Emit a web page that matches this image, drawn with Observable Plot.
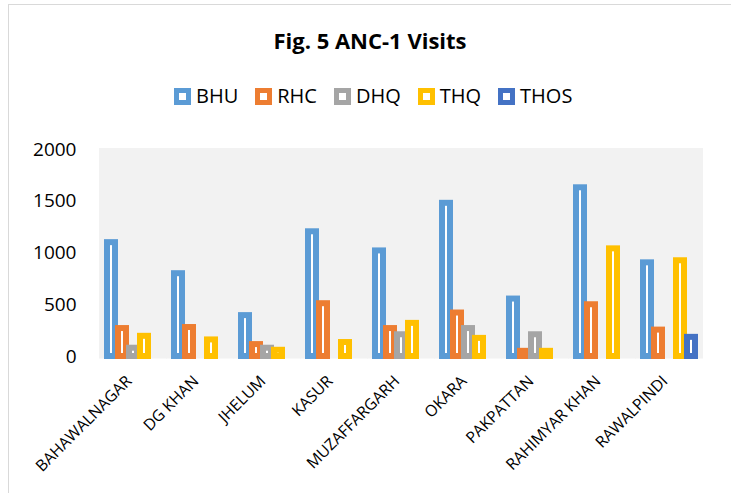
<!DOCTYPE html>
<html>
<head>
<meta charset="utf-8">
<script src="https://cdn.jsdelivr.net/npm/d3@7"></script>
<script src="https://cdn.jsdelivr.net/npm/@observablehq/plot@0.6"></script>
<style>
  html, body { margin: 0; padding: 0; background: #fff; }
  #wrap { position: relative; width: 731px; height: 493px; overflow: hidden; background: #fff; font-family: "Open Sans", sans-serif; }
  #border { position: absolute; left: 8px; top: 4px; width: 800px; height: 600px; border-left: 1.5px solid #d9d9d9; border-top: 1.5px solid #d9d9d9; }
  #title { position: absolute; left: 0; top: 29px; width: 740px; text-align: center; font-weight: 700; font-size: 22px; line-height: 22px; color: #000; }
  #legend { position: absolute; left: 174px; top: 86px; display: flex; align-items: center; font-size: 20px; line-height: 20px; color: #000; }
  .item { display: flex; align-items: center; margin-right: 17px; }
  .sw { box-sizing: border-box; width: 17px; height: 17px; border: 5.5px solid; background: #fff; margin-right: 5px; }
  #chart { position: absolute; left: 0; top: 120px; }
</style>
</head>
<body>
<div id="wrap">
  <div id="border"></div>
  <div id="title">Fig. 5 ANC-1 Visits</div>
  <div id="legend"></div>
  <div id="chart"></div>
</div>
<script>
const districts = ["BAHAWALNAGAR", "DG KHAN", "JHELUM", "KASUR", "MUZAFFARGARH", "OKARA", "PAKPATTAN", "RAHIMYAR KHAN", "RAWALPINDI"];
const seriesNames = ["BHU", "RHC", "DHQ", "THQ", "THOS"];
const bhu  = [1100, 800, 395, 1205, 1020, 1480, 555, 1630, 905];
const rhc  = [270, 280, 115, 510, 270, 420, 50, 500, 255];
const dhq  = [80, null, 80, null, 210, 270, 210, null, null];
const thq  = [195, 160, 60, 135, 320, 175, 50, 1040, 925];
const thos = [null, null, null, null, null, null, null, null, 185];
const colors = ["#5b9bd5", "#ed7d31", "#a5a5a5", "#ffc000", "#4472c4"];
const yTicks = [0, 500, 1000, 1500, 2000];

const seriesValues = [bhu, rhc, dhq, thq, thos];
const data = [];
districts.forEach((d, i) => {
  seriesValues.forEach((arr, j) => {
    if (arr[i] != null) data.push({district: d, series: seriesNames[j], value: arr[i]});
  });
});

// legend
const legend = document.getElementById("legend");
seriesNames.forEach((s, j) => {
  const it = document.createElement("div");
  it.className = "item";
  const sw = document.createElement("span");
  sw.className = "sw";
  sw.style.borderColor = colors[j];
  const tx = document.createElement("span");
  tx.textContent = s;
  it.appendChild(sw);
  it.appendChild(tx);
  legend.appendChild(it);
});

const chart = Plot.plot({
  width: 731,
  height: 373,
  marginTop: 29,
  marginBottom: 137,
  marginLeft: 97,
  marginRight: 27,
  style: {fontFamily: "Open Sans", color: "#000", background: "transparent", overflow: "visible"},
  fx: {domain: districts, padding: 0, axis: null, label: null},
  x: {domain: seriesNames, paddingInner: 0.3, paddingOuter: 0.6, axis: null},
  y: {domain: [0, 2000], axis: null},
  color: {domain: seriesNames, range: colors},
  marks: [
    Plot.frame({fill: "#f2f2f2", stroke: "#f2f2f2", insetTop: -1, insetBottom: -1.5}),
    Plot.barY(data, {fx: "district", x: "series", y: "value", fill: "#ffffff", stroke: "series", strokeWidth: 6}),
    Plot.axisY({ticks: yTicks, tickSize: 0, tickPadding: 23, tickFormat: d => String(d), fontSize: 19, label: null}),
    Plot.axisFx({anchor: "bottom", tickRotate: -45, tickSize: 0, tickPadding: 22, dx: -4, fontSize: 15.8, label: null})
  ]
});
document.getElementById("chart").appendChild(chart);
</script>
</body>
</html>
